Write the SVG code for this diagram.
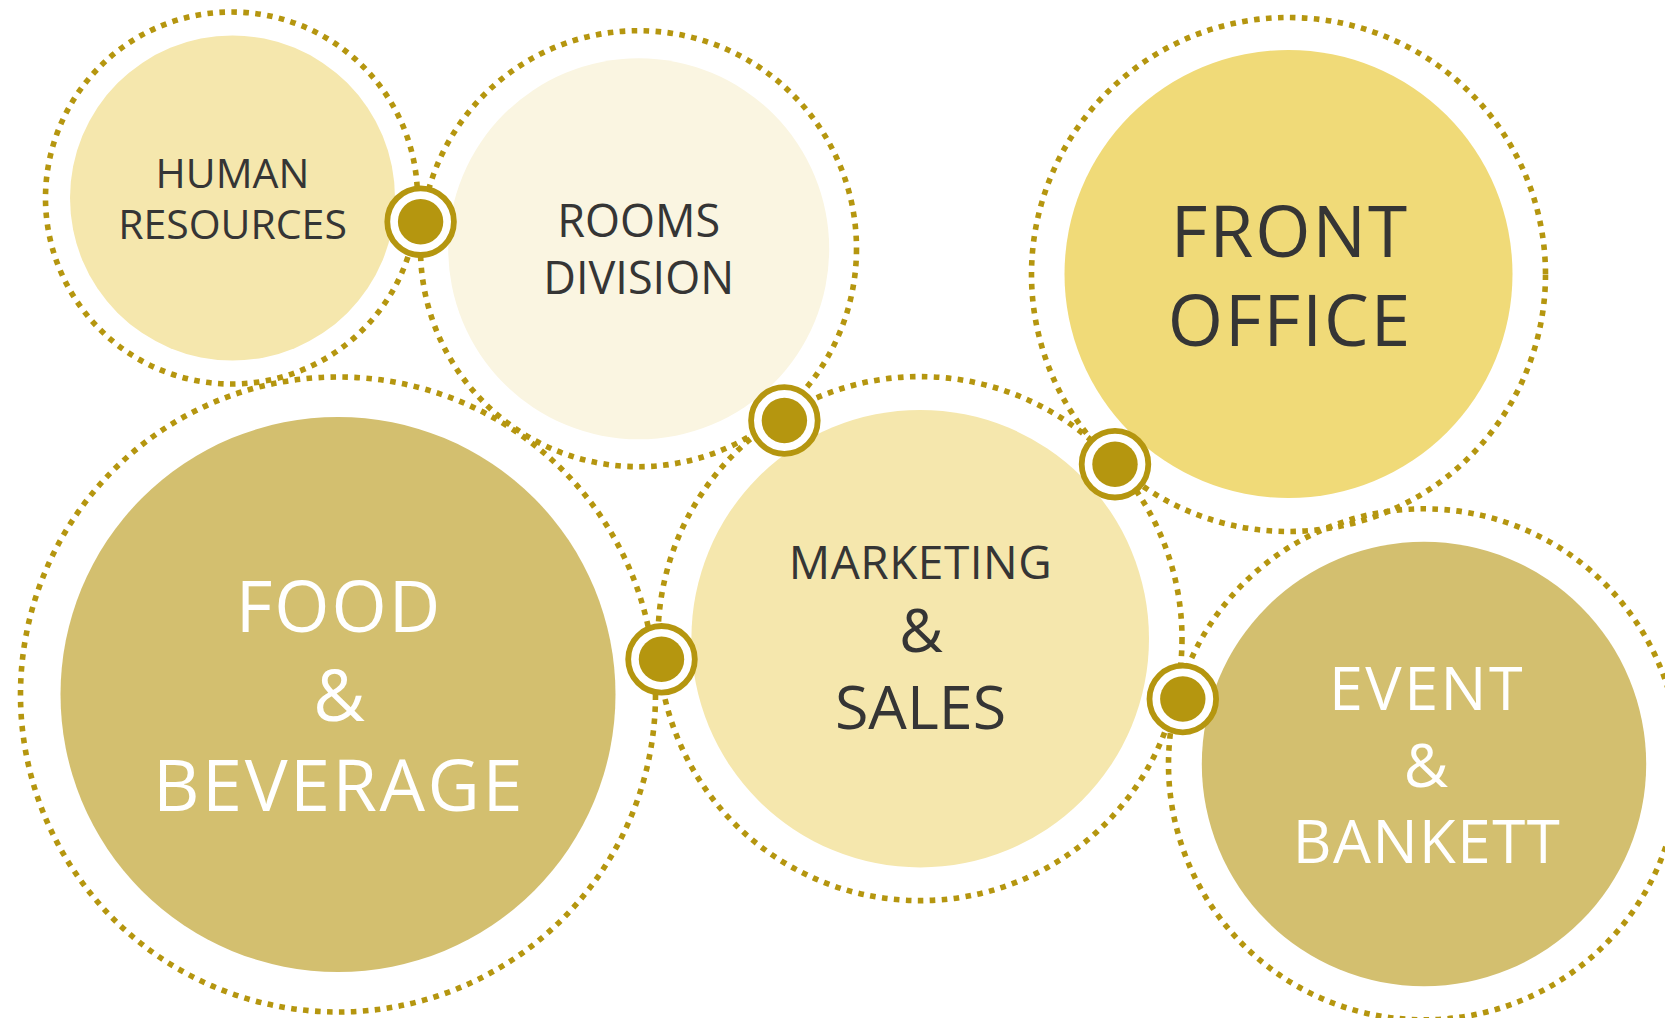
<svg xmlns="http://www.w3.org/2000/svg" width="1665" height="1018" viewBox="0 0 1665 1018">
<style>
.ring{fill:none;stroke:#b5960f;stroke-width:5.6;stroke-dasharray:5.6 6.4}
.t{font-family:"Open Sans","Noto Sans","Liberation Sans",sans-serif;text-anchor:middle}
.dk{fill:#353535}
.wh{fill:#ffffff}
.cr{fill:#ffffff;stroke:#b5960f;stroke-width:5.8}
.cd{fill:#b5960f}
</style>
<rect width="1665" height="1018" fill="#ffffff"/>
<g id="human-resources">
<circle class="ring" cx="231.5" cy="198" r="186"/>
<circle cx="232.5" cy="198" r="162.5" fill="#f5e7ad"/>
<text class="t dk" x="232.5" y="188.3" font-size="41">HUMAN</text>
<text class="t dk" x="232.5" y="239.3" font-size="41">RESOURCES</text>
</g>
<g id="rooms-division">
<circle class="ring" cx="638.5" cy="248.7" r="218"/>
<circle cx="638.7" cy="248.8" r="190.5" fill="#faf5e1"/>
<text class="t dk" x="638.7" y="237.3" font-size="45">ROOMS</text>
<text class="t dk" x="638.7" y="294" font-size="45">DIVISION</text>
</g>
<g id="front-office">
<circle class="ring" cx="1288.5" cy="274.5" r="257"/>
<circle cx="1288.5" cy="274" r="224" fill="#f0da78"/>
<text class="t dk" x="1290" y="257" font-size="71" letter-spacing="2">FRONT</text>
<text class="t dk" x="1290" y="346.3" font-size="71" letter-spacing="2">OFFICE</text>
</g>
<g id="food-beverage">
<circle class="ring" cx="338" cy="694.5" r="317.5"/>
<circle cx="338" cy="694.5" r="277.5" fill="#d3bf6f"/>
<text class="t wh" x="339" y="631.5" font-size="71" letter-spacing="2">FOOD</text>
<text class="t wh" x="339" y="721" font-size="71">&amp;</text>
<text class="t wh" x="339" y="811" font-size="72" letter-spacing="2.5">BEVERAGE</text>
</g>
<g id="marketing-sales">
<circle class="ring" cx="920" cy="638.6" r="262"/>
<circle cx="920.2" cy="638.7" r="228.8" fill="#f5e7ad"/>
<text class="t dk" x="920.5" y="579" font-size="46" letter-spacing="0.5">MARKETING</text>
<text class="t dk" x="921" y="652" font-size="60">&amp;</text>
<text class="t dk" x="920.5" y="728.6" font-size="61">SALES</text>
</g>
<g id="event-bankett">
<circle class="ring" cx="1424" cy="764.3" r="255.5"/>
<circle cx="1424" cy="764" r="222.2" fill="#d3bf6f"/>
<text class="t wh" x="1427" y="710" font-size="61" letter-spacing="2.5">EVENT</text>
<text class="t wh" x="1426" y="786.5" font-size="61">&amp;</text>
<text class="t wh" x="1427" y="863.3" font-size="60" letter-spacing="1.5">BANKETT</text>
</g>
<g id="connectors">
<circle class="cr" cx="420.6" cy="221.7" r="33.3"/>
<circle class="cd" cx="420.6" cy="221.7" r="22.7"/>
<circle class="cr" cx="784.4" cy="420.5" r="33.3"/>
<circle class="cd" cx="784.4" cy="420.5" r="22.7"/>
<circle class="cr" cx="1115" cy="464.2" r="33.3"/>
<circle class="cd" cx="1115" cy="464.2" r="22.7"/>
<circle class="cr" cx="661.5" cy="659.3" r="33.3"/>
<circle class="cd" cx="661.5" cy="659.3" r="22.7"/>
<circle class="cr" cx="1182.8" cy="699" r="33.3"/>
<circle class="cd" cx="1182.8" cy="699" r="22.7"/>
</g>
</svg>
